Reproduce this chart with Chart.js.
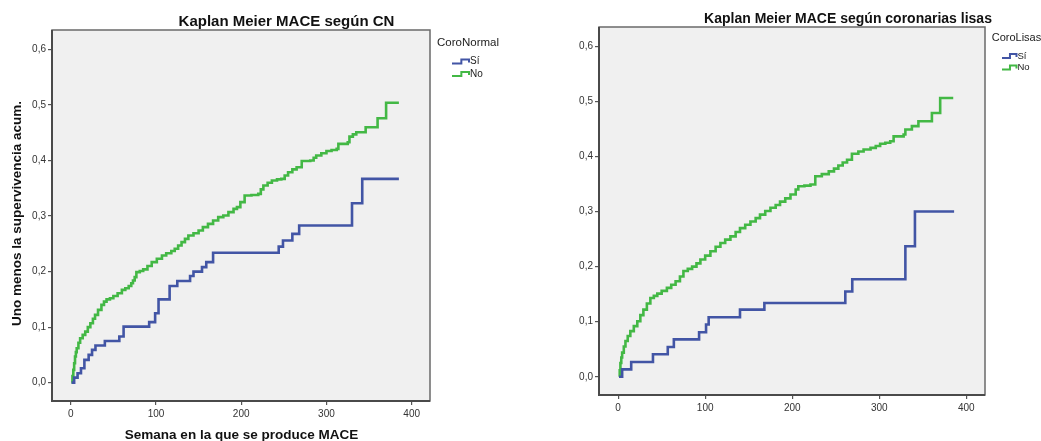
<!DOCTYPE html>
<html><head><meta charset="utf-8">
<script src="https://cdn.jsdelivr.net/npm/chart.js@4/dist/chart.umd.min.js"></script>
<style>
html,body{margin:0;padding:0;background:#fff;overflow:hidden}
#wrap{position:relative;width:1041px;height:441px}
.pane{position:absolute;top:0;height:441px}
#pl{left:0;width:520px}
#pr{left:520px;width:521px}
</style></head><body>
<div id="wrap"><div class="pane" id="pl"><canvas id="cl"></canvas></div><div class="pane" id="pr"><canvas id="cr"></canvas></div></div>
<script>
// ---- data ----
const xTicks = [0, 100, 200, 300, 400];
const yTicks = [0, 0.1, 0.2, 0.3, 0.4, 0.5, 0.6];
const seriesNames = ['Sí', 'No'];
const leftTitle = 'Kaplan Meier MACE según CN';
const rightTitle = 'Kaplan Meier MACE según coronarias lisas';
const leftLegendTitle = 'CoroNormal';
const rightLegendTitle = 'CoroLisas';
const xAxisTitle = 'Semana en la que se produce MACE';
const yAxisTitle = 'Uno menos la supervivencia acum.';

// Each entry: [week, cumulative 1 - survival after the step]
// Left panel (CoroNormal)
const cnSiSteps = [[1,0],[4,0.009],[8,0.017],[12,0.026],[16,0.041],[21,0.050],[25,0.059],[29,0.067],[40,0.075],[57,0.083],[62,0.101],[92,0.109],[99,0.125],[103,0.150],[116,0.174],[125,0.183],[140,0.192],[144,0.200],[154,0.208],[159,0.217],[167,0.234],[244,0.245],[249,0.256],[260,0.268],[268,0.283],[330,0.323],[342,0.367],[385,0.367]];
const cnNoSteps = [[1,0],[2,0.012],[3,0.023],[4,0.035],[5,0.047],[6,0.055],[7,0.062],[9,0.072],[11,0.080],[14,0.086],[17,0.092],[20,0.100],[23,0.107],[26,0.115],[28.5,0.122],[32,0.131],[36,0.140],[39,0.146],[42,0.150],[46,0.152],[50,0.156],[55,0.161],[60,0.167],[64,0.170],[68,0.174],[71,0.179],[73,0.184],[75,0.190],[77,0.199],[81,0.201],[85,0.204],[90,0.210],[95,0.217],[101,0.223],[107,0.229],[112,0.233],[118,0.237],[122,0.241],[126,0.247],[130,0.253],[134,0.259],[138,0.265],[144,0.269],[150,0.274],[155,0.280],[161,0.286],[167,0.292],[173,0.298],[179,0.301],[185,0.307],[191,0.313],[195,0.316],[199,0.325],[204,0.337],[212,0.338],[220,0.340],[223,0.348],[226,0.355],[231,0.360],[236,0.364],[242,0.366],[247,0.367],[251,0.373],[255,0.379],[260,0.384],[265,0.388],[271,0.399],[281,0.400],[285,0.405],[288,0.409],[294,0.413],[300,0.417],[306,0.419],[312,0.421],[314,0.430],[325,0.433],[327,0.443],[331,0.447],[335,0.451],[346,0.460],[360,0.476],[370,0.504],[385,0.504]];

// Right panel (CoroLisas)
const clSiSteps = [[1,0],[4.6,0.0135],[15,0.027],[40,0.041],[57,0.054],[64,0.068],[93,0.081],[101,0.095],[104,0.108],[140,0.122],[168,0.134],[261,0.155],[269,0.177],[330,0.237],[341,0.300],[386,0.300]];
const clNoSteps = [[1,0],[1.8,0.012],[2.6,0.025],[3.6,0.035],[4.6,0.044],[6.5,0.055],[8.4,0.065],[11,0.074],[14,0.083],[18,0.092],[22,0.101],[25.5,0.112],[29,0.122],[33,0.133],[37,0.143],[41,0.147],[45,0.151],[50,0.156],[56,0.1615],[61,0.167],[66,0.1735],[71,0.182],[75,0.192],[80,0.196],[85,0.200],[90,0.206],[94.5,0.213],[100,0.220],[106,0.228],[112,0.236],[117.5,0.243],[123,0.249],[129,0.255],[135,0.263],[140,0.270],[146,0.276],[152,0.282],[158,0.288],[163,0.2945],[169,0.301],[175,0.307],[181,0.312],[186,0.318],[192,0.324],[198,0.331],[204,0.340],[207,0.346],[214,0.347],[221,0.349],[226.5,0.364],[234,0.368],[242,0.373],[248,0.378],[253,0.3835],[258,0.389],[263,0.394],[268.6,0.405],[276,0.409],[282,0.4125],[290,0.4155],[296,0.419],[301,0.423],[307,0.425],[312.6,0.4275],[316.5,0.4365],[328,0.440],[330,0.449],[337.5,0.455],[345,0.464],[360.5,0.479],[370,0.506],[385,0.506]];

// ---- styling ----
const BLUE = '#4255a5';
const GREEN = '#43b845';
const FONT = "'Liberation Sans', Arial, sans-serif";
const toPts = steps => steps.map(s => ({x: s[0], y: s[1]}));

function panelPlugin(o) {
  return {
    id: 'panel',
    beforeDraw(chart) {
      const a = chart.chartArea, ctx = chart.ctx;
      ctx.save();
      ctx.fillStyle = '#f0f0f0';
      ctx.fillRect(a.left, a.top, a.right - a.left, a.bottom - a.top);
      ctx.restore();
    },
    afterDraw(chart) {
      const a = chart.chartArea, ctx = chart.ctx;
      ctx.save();
      ctx.strokeStyle = '#6a6a6a';
      ctx.lineWidth = 1.5;
      ctx.strokeRect(a.left, a.top, a.right - a.left, a.bottom - a.top);
      ctx.strokeStyle = '#4a4a4a';
      ctx.lineWidth = 2;
      ctx.beginPath();
      ctx.moveTo(a.left, a.top); ctx.lineTo(a.left, a.bottom); ctx.lineTo(a.right, a.bottom);
      ctx.stroke();
      // title
      ctx.fillStyle = '#111';
      ctx.textAlign = 'center';
      ctx.textBaseline = 'middle';
      ctx.font = 'bold ' + o.titleSize + 'px ' + FONT;
      ctx.fillText(o.title, o.titleX, o.titleY);
      // legend
      ctx.textAlign = 'left';
      ctx.fillStyle = '#222';
      ctx.font = o.legTitleSize + 'px ' + FONT;
      ctx.fillText(o.legTitle, o.legX, o.legY);
      ctx.font = o.legItemSize + 'px ' + FONT;
      chart.data.datasets.forEach((ds, i) => {
        const y = o.legItemY[i], x0 = o.iconX, w = o.iconW;
        ctx.strokeStyle = ds.borderColor;
        ctx.lineWidth = 2;
        ctx.beginPath();
        ctx.moveTo(x0, y + 2); ctx.lineTo(x0 + w * 0.55, y + 2); ctx.lineTo(x0 + w * 0.55, y - 2);
        ctx.lineTo(x0 + w, y - 2); ctx.lineTo(x0 + w, y + 1);
        ctx.stroke();
        ctx.fillStyle = '#222';
        ctx.fillText(ds.label, x0 + w + 1, y);
      });
      // axis titles
      if (o.xTitle) {
        ctx.fillStyle = '#111';
        ctx.textAlign = 'center';
        ctx.font = 'bold ' + o.axisTitleSize + 'px ' + FONT;
        ctx.fillText(o.xTitle, o.xTitleX, o.xTitleY);
      }
      if (o.yTitle) {
        ctx.save();
        ctx.translate(o.yTitleX, o.yTitleY);
        ctx.rotate(-Math.PI / 2);
        ctx.fillStyle = '#111';
        ctx.textAlign = 'center';
        ctx.font = 'bold ' + o.axisTitleSize + 'px ' + FONT;
        ctx.fillText(o.yTitle, 0, 0);
        ctx.restore();
      }
      ctx.restore();
    }
  };
}

function makeChart(id, siPts, noPts, pad, o) {
  return new Chart(document.getElementById(id), {
    type: 'line',
    data: {
      datasets: [
        {label: seriesNames[0], data: siPts, borderColor: BLUE, backgroundColor: BLUE, borderWidth: 2.6, stepped: true, pointRadius: 0, fill: false},
        {label: seriesNames[1], data: noPts, borderColor: GREEN, backgroundColor: GREEN, borderWidth: 2.6, stepped: true, pointRadius: 0, fill: false}
      ]
    },
    options: {
      responsive: true,
      maintainAspectRatio: false,
      animation: false,
      events: [],
      layout: {padding: pad},
      plugins: {legend: {display: false}, title: {display: false}, tooltip: {enabled: false}},
      scales: {
        x: {
          type: 'linear', min: -22, max: 421.5,
          afterBuildTicks: s => { s.ticks = xTicks.map(v => ({value: v})); },
          afterFit: s => { s.height = 25; },
          border: {display: false},
          grid: {drawOnChartArea: false, drawTicks: true, tickLength: 4, color: '#555', lineWidth: 1.2},
          ticks: {autoSkip: false, maxRotation: 0, padding: 3, color: '#333', font: {family: FONT, size: 10}, callback: v => String(v)}
        },
        y: {
          type: 'linear', min: -0.033, max: 0.635,
          afterBuildTicks: s => { s.ticks = yTicks.map(v => ({value: v})); },
          afterFit: s => { s.width = 40; },
          border: {display: false},
          grid: {drawOnChartArea: false, drawTicks: true, tickLength: 4, color: '#555', lineWidth: 1.2},
          ticks: {autoSkip: false, padding: 2, color: '#333', font: {family: FONT, size: 10}, callback: v => v.toFixed(1).replace('.', ',')}
        }
      }
    },
    plugins: [panelPlugin(o)]
  });
}

makeChart('cl', toPts(cnSiSteps), toPts(cnNoSteps),
  {left: 12, right: 90, top: 30, bottom: 15},
  {title: leftTitle, titleSize: 15, titleX: 286.5, titleY: 22,
   legTitle: leftLegendTitle, legTitleSize: 11.5, legX: 437, legY: 43,
   legItemSize: 10, legItemY: [61.5, 74], iconX: 452, iconW: 17,
   xTitle: xAxisTitle, xTitleX: 241.5, xTitleY: 435, yTitle: yAxisTitle, yTitleX: 17, yTitleY: 213.5, axisTitleSize: 13.5});

makeChart('cr', toPts(clSiSteps), toPts(clNoSteps),
  {left: 39, right: 56, top: 27, bottom: 21},
  {title: rightTitle, titleSize: 14, titleX: 328, titleY: 19,
   legTitle: rightLegendTitle, legTitleSize: 11, legX: 471.7, legY: 38,
   legItemSize: 9.5, legItemY: [56, 67.5], iconX: 482, iconW: 14.5,
   xTitle: null, yTitle: null, axisTitleSize: 13.5});
</script>
</body></html>
